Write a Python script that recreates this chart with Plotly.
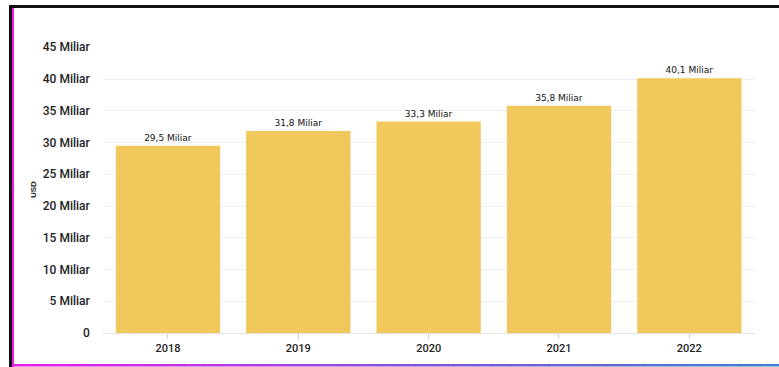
import plotly.graph_objects as go

W, H = 779, 367

years = ["2018", "2019", "2020", "2021", "2022"]
values = [29.5, 31.8, 33.3, 35.8, 40.1]
bar_labels = ["29,5 Miliar", "31,8 Miliar", "33,3 Miliar", "35,8 Miliar", "40,1 Miliar"]
tick_vals = [0, 5, 10, 15, 20, 25, 30, 35, 40, 45]
tick_text = ["0", "5 Miliar", "10 Miliar", "15 Miliar", "20 Miliar", "25 Miliar",
             "30 Miliar", "35 Miliar", "40 Miliar", "45 Miliar"]
y_title = "USD"

def px(x):
    return x / W

def py(y):
    return 1 - y / H

fig = go.Figure()
fig.add_trace(go.Bar(
    x=years, y=values, text=bar_labels, textposition="outside",
    textfont=dict(family="DejaVu Sans", size=9, color="#111"),
    marker=dict(color="#F0C85C", line=dict(width=0)),
    cliponaxis=False, hoverinfo="skip",
))

shapes = [
    dict(type="rect", xref="paper", yref="paper", x0=px(9), x1=px(12), y0=py(367), y1=py(5),
         fillcolor="#111", line=dict(width=0), layer="above"),
    dict(type="rect", xref="paper", yref="paper", x0=px(9), x1=px(779), y0=py(8), y1=py(5),
         fillcolor="#111", line=dict(width=0), layer="above"),
    dict(type="rect", xref="paper", yref="paper", x0=px(12), x1=px(14), y0=py(367), y1=py(8),
         fillcolor="#E91EE9", line=dict(width=0), layer="above"),
]
# bottom gradient line (magenta -> purple -> blue)
n = 40
c0 = (233, 30, 233)
c1 = (140, 80, 220)
c2 = (60, 130, 205)
for i in range(n):
    t = i / (n - 1)
    if t < 0.5:
        u = t / 0.5
        c = tuple(int(c0[k] + (c1[k] - c0[k]) * u) for k in range(3))
    else:
        u = (t - 0.5) / 0.5
        c = tuple(int(c1[k] + (c2[k] - c1[k]) * u) for k in range(3))
    xa = 12 + (W - 12) * i / n
    xb = 12 + (W - 12) * (i + 1) / n + 0.5
    shapes.append(dict(type="rect", xref="paper", yref="paper", x0=px(xa), x1=px(xb),
                       y0=py(366.5), y1=py(364), fillcolor="rgb(%d,%d,%d)" % c,
                       line=dict(width=0), layer="above"))

fig.update_layout(
    width=W, height=H,
    margin=dict(l=0, r=0, t=0, b=0),
    paper_bgcolor="white", plot_bgcolor="white",
    showlegend=False, bargap=0.2,
    font=dict(family="Roboto", color="#333"),
    xaxis=dict(domain=[px(102.8), px(754.5)], showgrid=False, showline=True,
               linecolor="#e3e3e3", linewidth=1, ticks="outside", ticklen=5,
               tickcolor="#d0d0d0", tickfont=dict(size=11, color="#222",
               family="Roboto", weight=500), automargin=False, fixedrange=True),
    yaxis=dict(domain=[py(333), py(47.25)], range=[0, 45], tickvals=tick_vals,
               ticktext=tick_text, showgrid=True, gridcolor="#efefef", gridwidth=1,
               zeroline=False, showline=False, ticks="", ticklabelstandoff=12,
               tickfont=dict(size=12, color="#222", family="Roboto", weight=500),
               automargin=False, fixedrange=True),
    shapes=shapes,
    annotations=[dict(text="<b>" + y_title + "</b>", xref="paper", yref="paper",
                      x=px(33), y=py(190), showarrow=False, textangle=-90,
                      font=dict(size=8, color="#222", family="Liberation Sans"),
                      xanchor="center", yanchor="middle")],
)

fig.write_html("out.html")
